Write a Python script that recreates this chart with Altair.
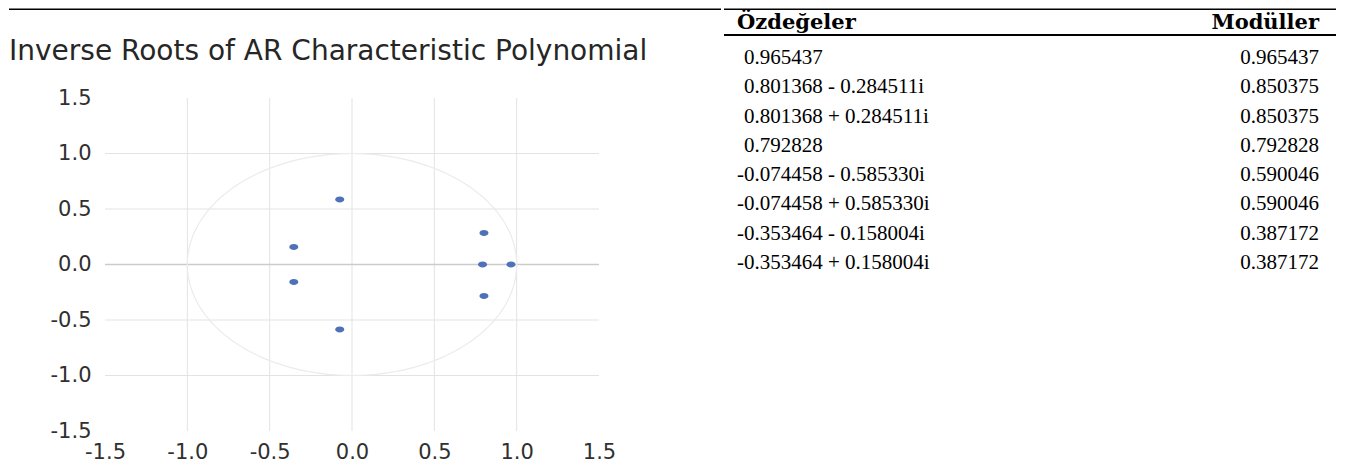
import altair as alt
import numpy as np
import pandas as pd

# ---------------- data ----------------
title_text = "Inverse Roots of AR Characteristic Polynomial"
header_left = "Özdeğeler"
header_right = "Modüller"
eig_labels = [
    "0.965437",
    "0.801368 - 0.284511i",
    "0.801368 + 0.284511i",
    "0.792828",
    "-0.074458 - 0.585330i",
    "-0.074458 + 0.585330i",
    "-0.353464 - 0.158004i",
    "-0.353464 + 0.158004i",
]
moduli = ["0.965437", "0.850375", "0.850375", "0.792828",
          "0.590046", "0.590046", "0.387172", "0.387172"]
real_parts = [0.965437, 0.801368, 0.801368, 0.792828,
              -0.074458, -0.074458, -0.353464, -0.353464]
imag_parts = [0.0, -0.284511, 0.284511, 0.0,
              -0.585330, 0.585330, -0.158004, 0.158004]
axis_ticks = [-1.5, -1.0, -0.5, 0.0, 0.5, 1.0, 1.5]
grid_vals = [-1.0, -0.5, 0.0, 0.5, 1.0]
hgrid_vals = [-1.0, -0.5, 0.5, 1.0]
zero_val = [0.0]

# ---------------- left panel: inverse roots ----------------
W, H = 494, 333
LEFT_OFF = 96      # from panel left edge to plot left
TOP_OFF = 88.75    # from top line to plot top

xs = alt.Scale(domain=[-1.5, 1.5], nice=False, zero=False)
ys = alt.Scale(domain=[-1.5, 1.5], nice=False, zero=False)
lbl = "replace(format(datum.value, '.1f'), '\u2212', '-')"
common_axis = dict(values=axis_ticks, labelExpr=lbl, grid=False, domain=False,
                   ticks=False, tickSize=0, labelFont="DejaVu Sans",
                   labelFontSize=21, labelColor="#303030", labelFlush=False,
                   labelOverlap=False, title=None)
ax_x = alt.Axis(labelPadding=10, **common_axis)
ax_y = alt.Axis(labelPadding=14, **common_axis)

vgrid = alt.Chart(pd.DataFrame({"g": grid_vals})).mark_rule(
    color="#e3e3e3", strokeWidth=1).encode(
    x=alt.X("g:Q", scale=xs, axis=ax_x),
    y=alt.value(0), y2=alt.value(H))

hgrid = alt.Chart(pd.DataFrame({"g": hgrid_vals})).mark_rule(
    color="#e3e3e3", strokeWidth=1).encode(
    y=alt.Y("g:Q", scale=ys, axis=ax_y),
    x=alt.value(0), x2=alt.value(W))

zero_line = alt.Chart(pd.DataFrame({"g": zero_val})).mark_rule(
    color="#cbcbcb", strokeWidth=1.3).encode(
    y=alt.Y("g:Q", scale=ys, axis=ax_y),
    x=alt.value(0), x2=alt.value(W))

# unit circle (reference curve)
theta = np.linspace(0, 2 * np.pi, 241)
circ = pd.DataFrame({"cx": np.cos(theta), "cy": np.sin(theta),
                     "k": np.arange(len(theta))})
circle = alt.Chart(circ).mark_line(color="#ebebeb", strokeWidth=1.2).encode(
    x=alt.X("cx:Q", scale=xs, axis=ax_x),
    y=alt.Y("cy:Q", scale=ys, axis=ax_y),
    order="k:Q")

ellipse = "M-1,0A1,0.66,0,1,1,1,0A1,0.66,0,1,1,-1,0Z"
pts = pd.DataFrame({"re": real_parts, "im": imag_parts})
points = alt.Chart(pts).mark_point(
    shape=ellipse, filled=True, size=81, color="#4e71b8", opacity=1,
    strokeWidth=0).encode(
    x=alt.X("re:Q", scale=xs, axis=ax_x),
    y=alt.Y("im:Q", scale=ys, axis=ax_y))

topline = alt.Chart(pd.DataFrame({"a": [0]})).mark_rule(
    color="#000000", strokeWidth=1.5).encode(
    x=alt.value(-LEFT_OFF), x2=alt.value(616), y=alt.value(-TOP_OFF))

left = alt.layer(vgrid, hgrid, zero_line, circle, points, topline).properties(
    width=W, height=H,
    title=alt.TitleParams(text=title_text, anchor="start", frame="group",
                          dx=-LEFT_OFF, offset=-57, font="DejaVu Sans",
                          fontSize=28, fontWeight="normal", color="#262626"))

# ---------------- right panel: table ----------------
# the table panel's origin is aligned with the plot top of the left panel
TW, TH = 612, 180
tbl = pd.DataFrame({"eig": eig_labels, "mod": moduli,
                    "row": list(range(1, len(eig_labels) + 1))})
row_scale = alt.Scale(domain=[1, len(eig_labels)], range=[-40, 165],
                      nice=False, zero=False)
txt_style = dict(font="Liberation Serif", fontSize=21, color="#000000",
                 baseline="middle")

base_t = alt.Chart(tbl)
neg_rows = base_t.transform_filter("indexof(datum.eig, '-') === 0").mark_text(
    align="left", **txt_style).encode(
    x=alt.value(13), y=alt.Y("row:Q", scale=row_scale, axis=None), text="eig:N")
pos_rows = base_t.transform_filter("indexof(datum.eig, '-') !== 0").mark_text(
    align="left", **txt_style).encode(
    x=alt.value(20), y=alt.Y("row:Q", scale=row_scale, axis=None), text="eig:N")
mod_rows = base_t.mark_text(align="right", **txt_style).encode(
    x=alt.value(595), y=alt.Y("row:Q", scale=row_scale, axis=None), text="mod:N")

hdr = pd.DataFrame({"h": [header_left]})
hdr_r = pd.DataFrame({"h": [header_right]})
hdr_style = dict(font="DejaVu Serif", fontSize=21, fontWeight="bold",
                 color="#000000", baseline="middle")
head_l = alt.Chart(hdr).mark_text(align="left", **hdr_style).encode(
    x=alt.value(13), y=alt.value(-75), text="h:N")
head_r = alt.Chart(hdr_r).mark_text(align="right", **hdr_style).encode(
    x=alt.value(595), y=alt.value(-75), text="h:N")

one = pd.DataFrame({"a": [0]})
t_top = alt.Chart(one).mark_rule(color="#000000", strokeWidth=1.5).encode(
    x=alt.value(0), x2=alt.value(TW), y=alt.value(-TOP_OFF))
t_mid = alt.Chart(one).mark_rule(color="#000000", strokeWidth=2.2).encode(
    x=alt.value(0), x2=alt.value(TW), y=alt.value(-63))

table = alt.layer(t_top, t_mid, head_l, head_r, neg_rows, pos_rows, mod_rows
                  ).properties(width=TW, height=TH)

chart = alt.hconcat(left, table, spacing=0).properties(
    padding=0, background="white").configure_view(stroke=None)

chart.save("out.html", embed_options={"renderer": "svg", "actions": False})
